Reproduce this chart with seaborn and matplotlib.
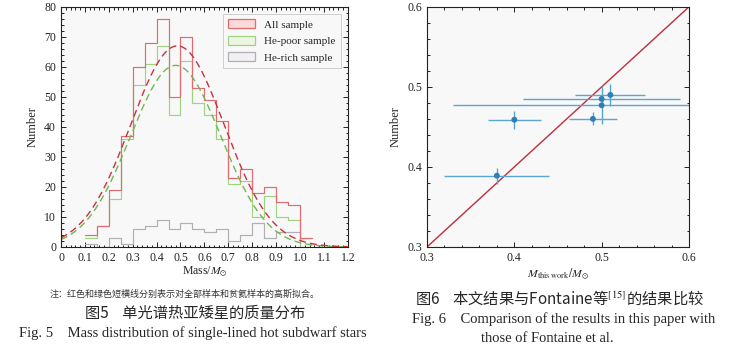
import numpy as np
import pandas as pd
import matplotlib
matplotlib.use("Agg")
import matplotlib.pyplot as plt
import seaborn as sns
from matplotlib.patches import Patch
from matplotlib.ticker import MultipleLocator

# -------------------------------
# DATA
# -------------------------------
bin_edges = [0.10, 0.15, 0.20, 0.25, 0.30, 0.35, 0.40, 0.45, 0.50, 0.55,
             0.60, 0.65, 0.70, 0.75, 0.80, 0.85, 0.90, 0.95, 1.00, 1.05]
bin_centers = [round(a + 0.025, 3) for a in bin_edges[:-1]]

all_counts = [4, 7, 19, 37, 60, 68, 76, 50, 70, 53, 49, 42, 23, 26, 18, 20, 15, 14, 3]
he_poor_counts = [3, 7, 16, 36, 54, 61, 67, 44, 62, 48, 44, 36, 21, 22, 10, 17, 10, 9, 3]
he_rich_counts = [1, 0, 3, 1, 6, 7, 9, 6, 8, 6, 5, 6, 2, 4, 8, 3, 5, 5, 0]

# gaussian fit parameters (amplitude, mean, sigma)
fit_all = (67.0, 0.487, 0.196)
fit_poor = (60.5, 0.480, 0.190)

# comparison with Fontaine et al.
m_this = [0.38, 0.40, 0.49, 0.50, 0.50, 0.51]
m_fontaine = [0.389, 0.459, 0.460, 0.485, 0.477, 0.490]
m_this_err = [0.06, 0.03, 0.027, 0.09, 0.17, 0.04]
m_fontaine_err = [0.010, 0.011, 0.008, 0.004, 0.024, 0.014]

# -------------------------------
# STYLE
# -------------------------------
sns.set_style("ticks")
serif = ["Liberation Serif", "DejaVu Serif"]
cjk = ["Noto Sans CJK SC", "DejaVu Sans"]
plt.rcParams["font.family"] = serif
plt.rcParams["mathtext.fontset"] = "stix"
plt.rcParams["xtick.direction"] = "in"
plt.rcParams["ytick.direction"] = "in"

red = "#e36a70"
green = "#9fd383"
gray = "#b0b0b0"
red_fit = "#c8323e"
green_fit = "#6fb84f"
blue = "#5aa6d0"
dark_blue = "#2f7fb6"
panel_bg = "#f8f8f8"

fig = plt.figure(figsize=(7.43, 3.60), dpi=100)
ax1 = fig.add_axes([0.0821, 0.314, 0.386, 0.667])
ax2 = fig.add_axes([0.5747, 0.314, 0.3526, 0.667])


def style_axis(ax):
    ax.set_facecolor(panel_bg)
    for s in ax.spines.values():
        s.set_linewidth(0.8)
        s.set_color("#222222")
    ax.tick_params(which="both", top=True, right=True, labelsize=8.5,
                   width=0.7, colors="#222222")
    ax.tick_params(which="major", length=3.5)
    ax.tick_params(which="minor", length=1.8)


# -------------------------------
# FIG 5: MASS HISTOGRAM
# -------------------------------
hist_df = pd.DataFrame({"center": bin_centers, "all": all_counts,
                        "poor": he_poor_counts, "rich": he_rich_counts})

for col, color in [("rich", gray), ("poor", green), ("all", red)]:
    sns.histplot(data=hist_df, x="center", weights=col, bins=bin_edges,
                 element="step", fill=False, color=color, linewidth=0.85, ax=ax1)

xs = np.linspace(0, 1.2, 300)
for (amp, mu, sig), color in [(fit_poor, green_fit), (fit_all, red_fit)]:
    curve = pd.DataFrame({"x": xs, "y": amp * np.exp(-(xs - mu) ** 2 / (2 * sig ** 2))})
    sns.lineplot(data=curve, x="x", y="y", color=color, linestyle=(0, (5, 3)),
                 linewidth=1.0, ax=ax1)

ax1.set_xlim(0, 1.2)
ax1.set_ylim(0, 80)
ax1.xaxis.set_minor_locator(MultipleLocator(0.02))
ax1.yaxis.set_major_locator(MultipleLocator(10))
ax1.yaxis.set_minor_locator(MultipleLocator(2))
ax1.set_xticks(np.round(np.arange(0, 1.21, 0.1), 1))
ax1.set_xticklabels(["0"] + [f"{v:.1f}" for v in np.arange(0.1, 1.21, 0.1)])
ax1.set_xlabel("")
ax1.set_ylabel("Number", fontsize=9, labelpad=4)
style_axis(ax1)

handles = [Patch(facecolor="#fbdada", edgecolor=red, linewidth=0.9),
           Patch(facecolor="#eef6e2", edgecolor=green, linewidth=0.9),
           Patch(facecolor="#f2f0f4", edgecolor=gray, linewidth=0.9)]
leg = ax1.legend(handles, ["All sample", "He-poor sample", "He-rich sample"],
                 loc="upper right", fontsize=8, frameon=True, fancybox=False,
                 handlelength=2.4, handleheight=0.9, borderpad=0.5,
                 labelspacing=0.55, bbox_to_anchor=(0.995, 0.995))
leg.get_frame().set_edgecolor("#bbbbbb")
leg.get_frame().set_linewidth(0.6)
leg.get_frame().set_facecolor(panel_bg)

# -------------------------------
# FIG 6: COMPARISON
# -------------------------------
comp_df = pd.DataFrame({"this": m_this, "fontaine": m_fontaine,
                        "xerr": m_this_err, "yerr": m_fontaine_err})

ax2.errorbar(comp_df["this"], comp_df["fontaine"], xerr=comp_df["xerr"],
             yerr=comp_df["yerr"], fmt="none", ecolor=blue, elinewidth=1.0,
             capsize=0, zorder=2)
sns.scatterplot(data=comp_df, x="this", y="fontaine", color=dark_blue, s=18,
                edgecolor="none", zorder=3, ax=ax2)
sns.lineplot(x=[0.3, 0.6], y=[0.3, 0.6], color="#c02c3a", linewidth=1.0,
             ax=ax2, zorder=1)

ax2.set_xlim(0.3, 0.6)
ax2.set_ylim(0.3, 0.6)
ax2.xaxis.set_major_locator(MultipleLocator(0.1))
ax2.xaxis.set_minor_locator(MultipleLocator(0.02))
ax2.yaxis.set_major_locator(MultipleLocator(0.1))
ax2.yaxis.set_minor_locator(MultipleLocator(0.02))
ax2.set_xlabel("")
ax2.set_ylabel("Number", fontsize=9, labelpad=4)
style_axis(ax2)

# -------------------------------
# CAPTIONS
# -------------------------------
fig.text(205 / 743, 1 - 272 / 360, r"Mass/$M_{\odot}$", ha="center", va="center",
         fontsize=8.5)
fig.text(185 / 743, 1 - 294 / 360,
         "注：红色和绿色短横线分别表示对全部样本和贫氦样本的高斯拟合。",
         ha="center", va="center", fontsize=6.5, family=cjk, color="#333333")
fig.text(195 / 743, 1 - 313 / 360, "图5    单光谱热亚矮星的质量分布",
         ha="center", va="center", fontsize=11, family=cjk)
fig.text(193 / 743, 1 - 333 / 360,
         "Fig. 5    Mass distribution of single-lined hot subdwarf stars",
         ha="center", va="center", fontsize=10.5)

fig.text(558 / 743, 1 - 274 / 360, r"$M_{\rm this\ work}/M_{\odot}$",
         ha="center", va="center", fontsize=8.5)
fig.text(560 / 743, 1 - 298 / 360, "图6    本文结果与Fontaine等$^{[15]}$的结果比较",
         ha="center", va="center", fontsize=11, family=cjk)
fig.text(412 / 743, 1 - 319 / 360,
         "Fig. 6    Comparison of the results in this paper with",
         ha="left", va="center", fontsize=10.5)
fig.text(481 / 743, 1 - 338 / 360, "those of Fontaine et al.",
         ha="left", va="center", fontsize=10.5)

fig.savefig("out.png", dpi=100)
